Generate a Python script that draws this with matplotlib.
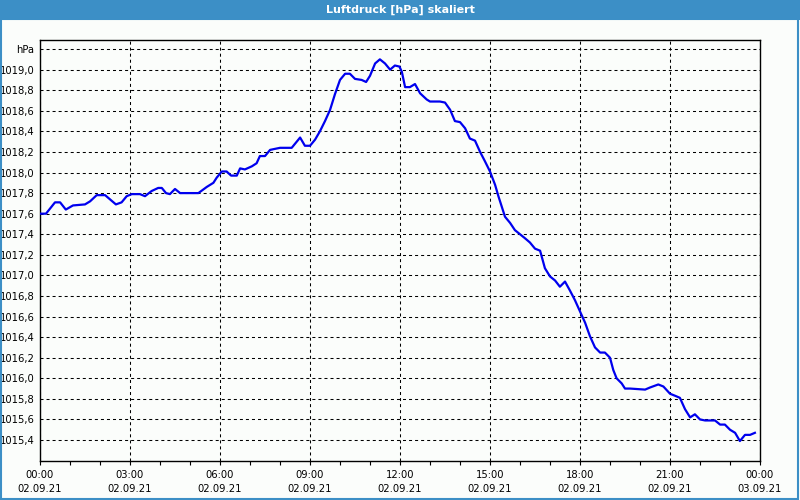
import numpy as np
import matplotlib
matplotlib.use("Agg")
import matplotlib.pyplot as plt
from matplotlib.patches import Rectangle
from matplotlib.ticker import FixedLocator, MultipleLocator

# data (hours since 02.09.21 00:00, hPa)
hours = [0.0, 0.2, 0.5, 0.67, 0.86, 1.1, 1.5, 1.67, 1.89, 2.17, 2.53, 2.72, 2.89,
         3.06, 3.33, 3.5, 3.72, 3.94, 4.06, 4.2, 4.33, 4.5, 4.67, 5.28, 5.56, 5.78,
         5.89, 6.06, 6.22, 6.37, 6.56, 6.67, 6.83, 7.06, 7.22, 7.33, 7.5, 7.67, 8.0,
         8.39, 8.56, 8.67, 8.83, 9.0, 9.17, 9.33, 9.5, 9.67, 9.83, 10.0, 10.17, 10.33,
         10.5, 10.72, 10.87, 11.0, 11.17, 11.33, 11.5, 11.67, 11.83, 11.98, 12.06,
         12.17, 12.33, 12.5, 12.67, 12.89, 13.0, 13.33, 13.5, 13.67, 13.83, 14.0,
         14.17, 14.33, 14.5, 14.67, 14.83, 15.0, 15.17, 15.28, 15.39, 15.5, 15.67,
         15.83, 16.0, 16.17, 16.33, 16.5, 16.67, 16.83, 17.0, 17.17, 17.33, 17.5,
         17.67, 17.83, 18.0, 18.17, 18.33, 18.5, 18.67, 18.83, 19.0, 19.11, 19.22,
         19.39, 19.5, 19.67, 20.17, 20.33, 20.61, 20.78, 21.0, 21.17, 21.33, 21.5,
         21.67, 21.83, 22.0, 22.17, 22.5, 22.67, 22.83, 23.0, 23.17, 23.33, 23.5,
         23.67, 23.83]
pressure = [1017.60, 1017.60, 1017.71, 1017.71, 1017.64, 1017.68, 1017.69, 1017.72,
            1017.78, 1017.78, 1017.69, 1017.71, 1017.77, 1017.79, 1017.79, 1017.77,
            1017.82, 1017.85, 1017.85, 1017.80, 1017.79, 1017.84, 1017.80, 1017.80,
            1017.86, 1017.90, 1017.95, 1018.01, 1018.01, 1017.97, 1017.97, 1018.04,
            1018.03, 1018.06, 1018.09, 1018.16, 1018.16, 1018.22, 1018.24, 1018.24,
            1018.30, 1018.34, 1018.26, 1018.26, 1018.32, 1018.40, 1018.50, 1018.61,
            1018.76, 1018.90, 1018.96, 1018.96, 1018.91, 1018.90, 1018.88, 1018.94,
            1019.06, 1019.10, 1019.06, 1019.00, 1019.04, 1019.03, 1018.98, 1018.83,
            1018.83, 1018.86, 1018.77, 1018.71, 1018.69, 1018.69, 1018.68, 1018.61,
            1018.50, 1018.49, 1018.43, 1018.33, 1018.31, 1018.20, 1018.11, 1018.01,
            1017.88, 1017.77, 1017.67, 1017.57, 1017.51, 1017.44, 1017.40, 1017.36,
            1017.32, 1017.26, 1017.24, 1017.07, 1016.99, 1016.95, 1016.89, 1016.94,
            1016.85, 1016.76, 1016.65, 1016.54, 1016.41, 1016.30, 1016.25, 1016.25,
            1016.20, 1016.08, 1016.00, 1015.95, 1015.90, 1015.90, 1015.89, 1015.91,
            1015.94, 1015.92, 1015.85, 1015.83, 1015.81, 1015.70, 1015.62, 1015.65,
            1015.60, 1015.59, 1015.59, 1015.55, 1015.55, 1015.50, 1015.47, 1015.39,
            1015.45, 1015.45, 1015.47]

x_ticks = [0, 3, 6, 9, 12, 15, 18, 21, 24]
x_labels = ["00:00\n02.09.21", "03:00\n02.09.21", "06:00\n02.09.21",
            "09:00\n02.09.21", "12:00\n02.09.21", "15:00\n02.09.21",
            "18:00\n02.09.21", "21:00\n02.09.21", "00:00\n03.09.21"]
y_ticks = [1015.4, 1015.6, 1015.8, 1016.0, 1016.2, 1016.4, 1016.6, 1016.8, 1017.0,
           1017.2, 1017.4, 1017.6, 1017.8, 1018.0, 1018.2, 1018.4, 1018.6, 1018.8,
           1019.0, 1019.2]
y_labels = ["1015,4", "1015,6", "1015,8", "1016,0", "1016,2", "1016,4", "1016,6",
            "1016,8", "1017,0", "1017,2", "1017,4", "1017,6", "1017,8", "1018,0",
            "1018,2", "1018,4", "1018,6", "1018,8", "1019,0", "hPa"]
title = "Luftdruck [hPa] skaliert"

bar_blue = "#3c8fc6"
bg = "#fbfdfb"

fig = plt.figure(figsize=(8, 5), dpi=100, facecolor=bg)
ax = fig.add_axes([0.05, 0.078, 0.90, 0.842], facecolor=bg)

# title bar and window border
fig.patches.append(Rectangle((0, 0.96), 1, 0.04, transform=fig.transFigure,
                             facecolor=bar_blue, edgecolor="none", zorder=0))
fig.patches.append(Rectangle((0.001, 0.003), 0.997, 0.96, transform=fig.transFigure,
                             facecolor="none", edgecolor=bar_blue, lw=1.5, zorder=0))
fig.text(0.5, 0.98, title, color="white", fontsize=8, fontweight="bold",
         ha="center", va="center")

ax.plot(hours, pressure, color="#0000ee", lw=1.6, zorder=3)

ax.set_xlim(0, 24)
ax.set_ylim(1015.196, 1019.288)

ax.xaxis.set_major_locator(FixedLocator(x_ticks))
ax.set_xticklabels(x_labels)
ax.xaxis.set_minor_locator(MultipleLocator(1))
ax.tick_params(axis="x", which="both", direction="out", length=3, width=0.8,
               labelsize=7.2, pad=3.5, colors="black")
ax.set_yticks(y_ticks)
ax.set_yticklabels(y_labels)
ax.tick_params(axis="y", length=0, labelsize=7.2, pad=4)
for lbl in ax.get_xticklabels():
    lbl.set_linespacing(1.5)

ax.grid(True, which="major", color="black", lw=0.75, linestyle=(0, (2.9, 2.9)))
for sp in ax.spines.values():
    sp.set_color("black")
    sp.set_linewidth(1.0)

fig.savefig("out.png", dpi=100, facecolor=bg)
